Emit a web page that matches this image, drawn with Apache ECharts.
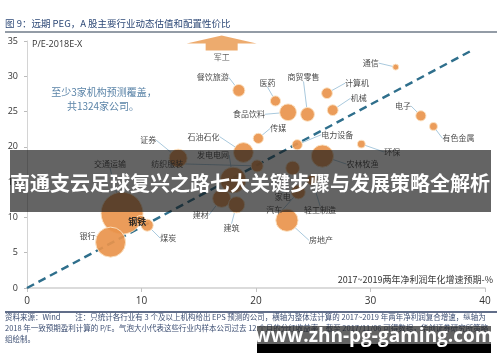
<!DOCTYPE html>
<html><head><meta charset="utf-8">
<script src="https://cdn.jsdelivr.net/npm/echarts@6/dist/echarts.min.js"></script>
<style>html,body{margin:0;padding:0;background:#fff}#c{width:500px;height:362px}</style>
</head><body><div id="c"></div>
<script>
// ---- data ----
const categories = ['餐饮旅游','医药','食品饮料','商贸零售','计算机','机械','传媒','电力设备','环保','通信','电子','有色金属','石油石化','证券','发电电网','交通运输','纺织服装','家电','农林牧渔','汽车','轻工制造','建材','建筑','房地产','银行','煤炭','钢铁'];
const growth = [18.5,21.7,22.8,24.5,26.2,26.7,20.2,23.6,29.2,32.2,34.4,35.5,18.9,13.2,18.0,8.3,20.1,23.2,25.8,23.7,24.9,17.0,18.3,22.7,7.3,10.5,9.9];
const pe = [28.0,26.5,24.9,24.6,27.6,25.2,21.2,20.3,20.4,31.3,24.4,22.9,19.2,18.4,15.3,10.6,17.3,17.0,18.7,13.6,15.3,12.7,11.8,9.6,6.5,8.9,9.6];
const divYield = [2.0,1.7,2.8,2.3,1.8,1.8,1.7,1.7,1.3,1.0,1.7,1.3,3.3,3.0,4.3,7.0,2.0,2.3,3.7,2.3,1.7,3.0,2.7,3.7,5.0,2.0,1.6];
const offChart = {name:'军工', growth:17.0, pe:34.7};
const pegLine = [[0,0],[39,33.8]];
const xTicks = [0,10,20,30,40];
const yTicks = [0,5,10,15,20,25,30,35];

// ---- label offsets (style only, px) ----
const labelOffsets = {
 '餐饮旅游':[-26,-13],'医药':[-8,-18],'食品饮料':[-39,2],'商贸零售':[-4,-37],'计算机':[30,-10],'机械':[26,-12],
 '传媒':[20,-10],'电力设备':[40,-10],'环保':[31,8],'通信':[-25,-4],'电子':[-18,-10],'有色金属':[25,12],
 '石油石化':[-40,-16],'证券':[-30,-18],'发电电网':[-20,-25],'交通运输':[-12,-49],'纺织服装':[-90,-2],
 '家电':[-10,29],'农林牧渔':[40,8],'汽车':[-24,18],'轻工制造':[8,30],'建材':[-21,17],'建筑':[-5,23],
 '房地产':[34,20],'银行':[-23,-6],'煤炭':[21,13],'钢铁':[-3,1]
};

const bubbleData = categories.map((c,i)=>{
  const d = {name:c, value:[growth[i], pe[i], divYield[i]]};
  if (c==='钢铁') { d.label = {color:'#222', fontWeight:'bold', fontSize:9}; d.labelLine={show:false}; }
  return d;
});

const chart = echarts.init(document.getElementById('c'), null, {renderer:'canvas'});
const FONT = 'Noto Sans CJK SC';
chart.setOption({
  animation:false,
  textStyle:{fontFamily:FONT},
  grid:{left:27, right:15, top:41, bottom:74},
  xAxis:{type:'value', min:xTicks[0], max:xTicks[xTicks.length-1], interval:10,
    axisLine:{show:true, lineStyle:{color:'#cfcfcf', width:1.5}},
    axisTick:{show:true, length:4, lineStyle:{color:'#c4c4c4'}},
    axisLabel:{color:'#333', fontSize:10, margin:8, fontFamily:'Open Sans'},
    splitLine:{show:false}},
  yAxis:{type:'value', min:yTicks[0], max:yTicks[yTicks.length-1], interval:5,
    axisLine:{show:true, lineStyle:{color:'#d4d4d4', width:1}},
    axisTick:{show:true, length:3, lineStyle:{color:'#bbb'}},
    axisLabel:{color:'#333', fontSize:9, margin:9, fontFamily:'Open Sans'},
    splitLine:{show:false}},
  series:[
    {type:'line', data:pegLine, symbol:'none', z:3,
     lineStyle:{color:'#2f6f8c', width:2.5, type:[8,5]}},
    {type:'scatter', data:bubbleData, z:4,
     symbolSize:function(v){return v[2]*6;},
     itemStyle:{color:'#e9944c', opacity:0.92, borderColor:'#fbe2c2', borderWidth:1},
     label:{show:true, position:'inside', formatter:'{b}', fontSize:8, color:'#3b3b3b', fontFamily:FONT},
     labelLine:{show:true, lineStyle:{color:'#a9c9dd', width:1}},
     labelLayout:function(p){const o = labelOffsets[categories[p.dataIndex]]||[0,0]; return {dx:o[0], dy:o[1]};}
    },
    {type:'scatter', data:[{name:offChart.name, value:[offChart.growth, offChart.pe]}], z:4,
     symbol:'path://M0,8 L35,0 L70,8 L51,8 L51,15 L19,15 L19,8 Z', symbolSize:[70,15],
     itemStyle:{color:'#e8964a'},
     label:{show:true, position:'bottom', distance:2, formatter:'{b}', fontSize:8, color:'#3b3b3b'}}
  ],
  graphic:[
    {type:'text', left:5, top:19, style:{text:'图 9：远期 PEG，A 股主要行业动态估值和配置性价比', fill:'#2f4a78', font:'9.5px "Noto Sans CJK SC"'}},
    {type:'line', shape:{x1:5,y1:32,x2:497,y2:32}, style:{stroke:'#6f7b88', lineWidth:1.5}},
    {type:'text', left:32, top:40, style:{text:'P/E-2018E-X', fill:'#333', font:'9px "Open Sans"'}},
    {type:'text', x:104, y:92, style:{text:'至少3家机构预测覆盖，', fill:'#5b84a8', font:'10px "Noto Sans CJK SC"', align:'center', verticalAlign:'middle'}},
    {type:'text', x:103, y:106, style:{text:'共1324家公司。', fill:'#5b84a8', font:'10px "Noto Sans CJK SC"', align:'center', verticalAlign:'middle'}},
    {type:'text', x:493, y:280, style:{text:'2017~2019两年净利润年化增速预期-%', fill:'#333', font:'9px "Noto Sans CJK SC"', align:'right', verticalAlign:'middle'}},
    {type:'line', shape:{x1:5,y1:312,x2:497,y2:312}, style:{stroke:'#2c3e62', lineWidth:1.5}},
    {type:'text', left:5, top:313, style:{text:'资料来源：Wind　　注：只统计各行业有 3 个及以上机构给出 EPS 预测的公司，横轴为整体法计算的 2017~2019 年两年净利润复合增速，纵轴为', fill:'#3d4f73', font:'7.5px "Noto Sans CJK SC"'}},
    {type:'text', left:5, top:324, style:{text:'2018 年一致预期盈利计算的 P/E。气泡大小代表这些行业内样本公司过去 12 个月的分红收益率，截至 2017/11/06 可得数据，华创证券研究所策略', fill:'#3d4f73', font:'7.5px "Noto Sans CJK SC"'}},
    {type:'text', left:5, top:335, style:{text:'组绘制。', fill:'#3d4f73', font:'7.5px "Noto Sans CJK SC"'}},
    {type:'rect', z:100, shape:{x:10,y:150,width:481,height:62}, style:{fill:'rgba(20,20,20,0.66)'}},
    {type:'text', z:101, x:250, y:183, style:{text:'南通支云足球复兴之路七大关键步骤与发展策略全解析', fill:'#fff', font:'bold 20px "Noto Sans CJK SC"', align:'center', verticalAlign:'middle'}},
    {type:'rect', z:100, shape:{x:257,y:326,width:234,height:18}, style:{fill:'rgba(40,40,40,0.72)'}},
    {type:'rect', z:100, shape:{x:257,y:344,width:234,height:9}, style:{fill:'#000'}},
    {type:'text', z:101, x:374, y:337, style:{text:'www.zhn-pg-gaming.com', fill:'#fff', font:'bold 19px "Open Sans"', align:'center', verticalAlign:'middle'}}
  ]
});
</script></body></html>
